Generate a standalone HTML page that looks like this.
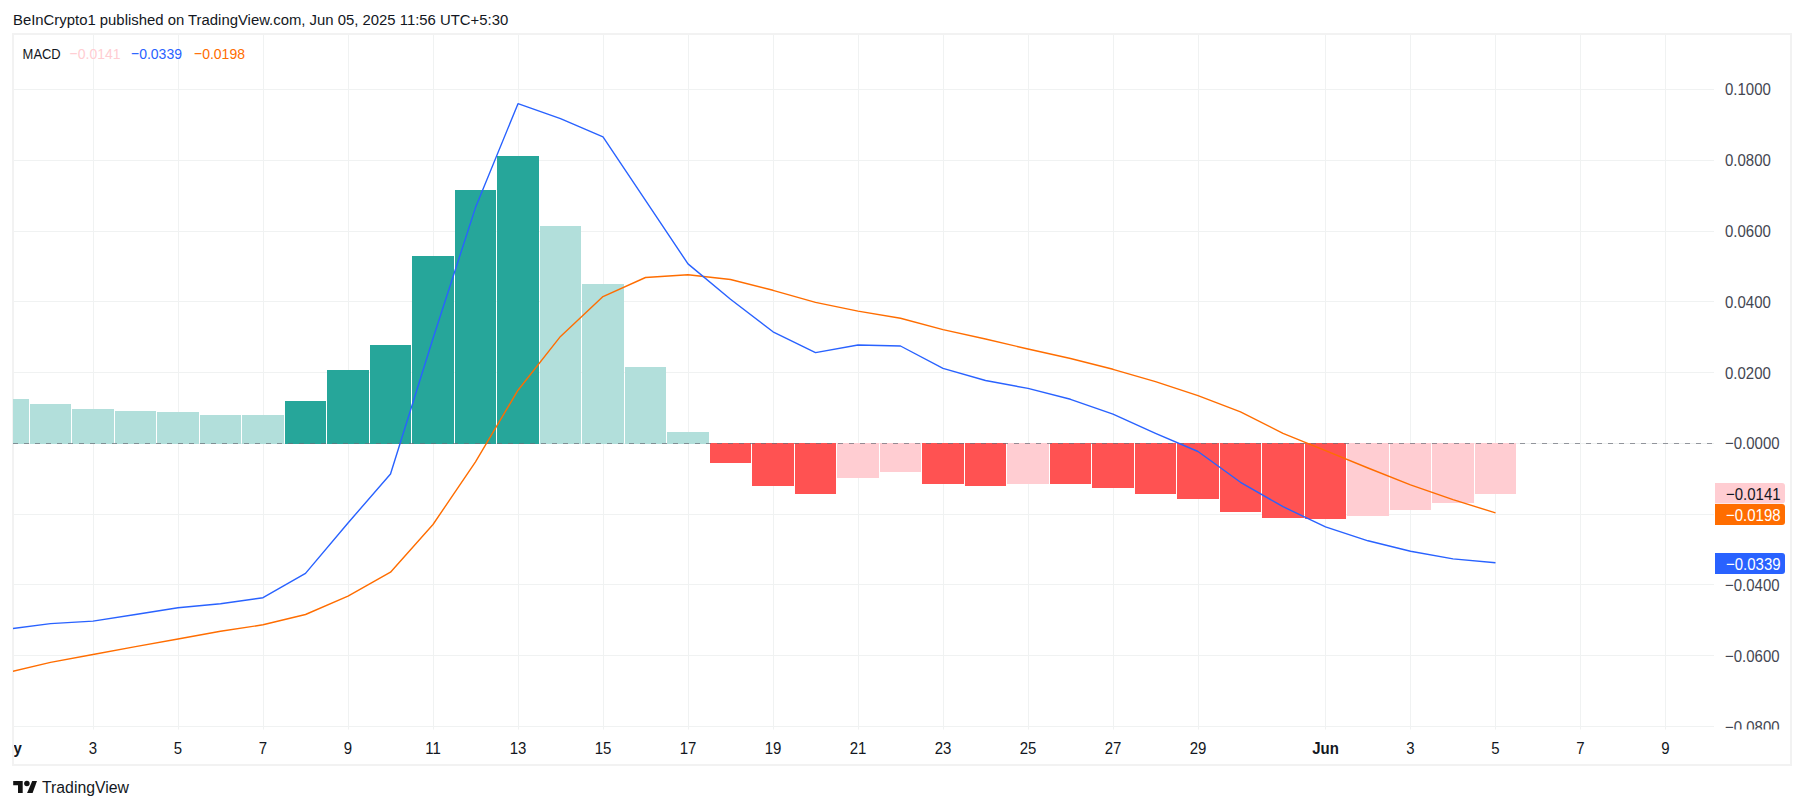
<!DOCTYPE html>
<html><head><meta charset="utf-8"><style>
html,body{margin:0;padding:0;background:#fff;}
body{width:1804px;height:809px;position:relative;overflow:hidden;font-family:"Liberation Sans", sans-serif;}
svg{position:absolute;left:0;top:0;}
</style></head><body>
<svg width="1804" height="809" viewBox="0 0 1804 809" font-family='"Liberation Sans", sans-serif'>
<rect x="0" y="0" width="1804" height="809" fill="#ffffff"/>
<text x="13" y="25" font-size="14.88" fill="#131722">BeInCrypto1 published on TradingView.com, Jun 05, 2025 11:56 UTC+5:30</text>
<rect x="13" y="34" width="1778" height="731" fill="none" stroke="#f2f2f2" stroke-width="2"/>
<clipPath id="pane"><rect x="13" y="35" width="1701" height="694.5"/></clipPath>
<g clip-path="url(#pane)"><g stroke="#f0f2f2" stroke-width="1" shape-rendering="crispEdges"><line x1="93.5" y1="35" x2="93.5" y2="729.5"/><line x1="178.5" y1="35" x2="178.5" y2="729.5"/><line x1="263.5" y1="35" x2="263.5" y2="729.5"/><line x1="348.5" y1="35" x2="348.5" y2="729.5"/><line x1="433.5" y1="35" x2="433.5" y2="729.5"/><line x1="518.5" y1="35" x2="518.5" y2="729.5"/><line x1="603.5" y1="35" x2="603.5" y2="729.5"/><line x1="688.5" y1="35" x2="688.5" y2="729.5"/><line x1="773.5" y1="35" x2="773.5" y2="729.5"/><line x1="858.5" y1="35" x2="858.5" y2="729.5"/><line x1="943.5" y1="35" x2="943.5" y2="729.5"/><line x1="1028.5" y1="35" x2="1028.5" y2="729.5"/><line x1="1113.5" y1="35" x2="1113.5" y2="729.5"/><line x1="1198.5" y1="35" x2="1198.5" y2="729.5"/><line x1="1325.5" y1="35" x2="1325.5" y2="729.5"/><line x1="1410.5" y1="35" x2="1410.5" y2="729.5"/><line x1="1495.5" y1="35" x2="1495.5" y2="729.5"/><line x1="1580.5" y1="35" x2="1580.5" y2="729.5"/><line x1="1665.5" y1="35" x2="1665.5" y2="729.5"/><line x1="14" y1="726.5" x2="1714" y2="726.5"/><line x1="14" y1="655.5" x2="1714" y2="655.5"/><line x1="14" y1="584.5" x2="1714" y2="584.5"/><line x1="14" y1="514.5" x2="1714" y2="514.5"/><line x1="14" y1="443.5" x2="1714" y2="443.5"/><line x1="14" y1="372.5" x2="1714" y2="372.5"/><line x1="14" y1="301.5" x2="1714" y2="301.5"/><line x1="14" y1="231.5" x2="1714" y2="231.5"/><line x1="14" y1="160.5" x2="1714" y2="160.5"/><line x1="14" y1="89.5" x2="1714" y2="89.5"/></g><g><rect x="13" y="399.0" width="16" height="45.0" fill="#b2dfdb"/><rect x="30" y="404.0" width="41" height="40.0" fill="#b2dfdb"/><rect x="72" y="409.0" width="42" height="35.0" fill="#b2dfdb"/><rect x="115" y="411.0" width="41" height="33.0" fill="#b2dfdb"/><rect x="157" y="412.0" width="42" height="32.0" fill="#b2dfdb"/><rect x="200" y="415.0" width="41" height="29.0" fill="#b2dfdb"/><rect x="242" y="415.0" width="42" height="29.0" fill="#b2dfdb"/><rect x="285" y="401.0" width="41" height="43.0" fill="#26a69a"/><rect x="327" y="370.0" width="42" height="74.0" fill="#26a69a"/><rect x="370" y="345.0" width="41" height="99.0" fill="#26a69a"/><rect x="412" y="256.0" width="42" height="188.0" fill="#26a69a"/><rect x="455" y="190.0" width="41" height="254.0" fill="#26a69a"/><rect x="497" y="156.0" width="42" height="288.0" fill="#26a69a"/><rect x="540" y="226.0" width="41" height="218.0" fill="#b2dfdb"/><rect x="582" y="284.0" width="42" height="160.0" fill="#b2dfdb"/><rect x="625" y="367.0" width="41" height="77.0" fill="#b2dfdb"/><rect x="667" y="432.0" width="42" height="12.0" fill="#b2dfdb"/><rect x="710" y="443.0" width="41" height="20.0" fill="#ff5252"/><rect x="752" y="443.0" width="42" height="43.0" fill="#ff5252"/><rect x="795" y="443.0" width="41" height="51.0" fill="#ff5252"/><rect x="837" y="443.0" width="42" height="35.0" fill="#ffcdd2"/><rect x="880" y="443.0" width="41" height="29.0" fill="#ffcdd2"/><rect x="922" y="443.0" width="42" height="41.0" fill="#ff5252"/><rect x="965" y="443.0" width="41" height="43.0" fill="#ff5252"/><rect x="1007" y="443.0" width="42" height="41.0" fill="#ffcdd2"/><rect x="1050" y="443.0" width="41" height="41.0" fill="#ff5252"/><rect x="1092" y="443.0" width="42" height="45.0" fill="#ff5252"/><rect x="1135" y="443.0" width="41" height="51.0" fill="#ff5252"/><rect x="1177" y="443.0" width="42" height="56.0" fill="#ff5252"/><rect x="1220" y="443.0" width="41" height="69.0" fill="#ff5252"/><rect x="1262" y="443.0" width="42" height="75.0" fill="#ff5252"/><rect x="1305" y="443.0" width="41" height="76.0" fill="#ff5252"/><rect x="1347" y="443.0" width="42" height="73.0" fill="#ffcdd2"/><rect x="1390" y="443.0" width="41" height="67.0" fill="#ffcdd2"/><rect x="1432" y="443.0" width="42" height="60.0" fill="#ffcdd2"/><rect x="1475" y="443.0" width="41" height="51.0" fill="#ffcdd2"/></g><line x1="13" y1="443.5" x2="1714" y2="443.5" stroke="#6a6d78" stroke-opacity="0.7" stroke-width="1" stroke-dasharray="5 6" shape-rendering="crispEdges"/><polyline points="8.0,672.4 50.5,662.4 93.0,654.5 135.5,646.6 178.0,639.0 220.5,631.3 263.0,624.8 305.5,614.5 348.0,596.2 390.5,572.2 433.0,524.5 475.5,461.8 518.0,390.2 560.5,336.4 603.0,296.6 645.5,277.5 688.0,274.7 730.5,279.5 773.0,290.3 815.5,302.4 858.0,311.1 900.5,318.3 943.0,329.6 985.5,339.0 1028.0,349.0 1070.5,358.5 1113.0,369.3 1155.5,381.6 1198.0,395.7 1240.5,411.8 1283.0,433.4 1325.5,450.7 1368.0,468.0 1410.5,484.8 1453.0,499.6 1495.5,512.9" fill="none" stroke="#ff6d00" stroke-width="1.4" stroke-linejoin="round"/><polyline points="8.0,629.1 50.5,623.6 93.0,621.1 135.5,614.5 178.0,607.8 220.5,603.8 263.0,597.7 305.5,573.4 348.0,523.0 390.5,474.0 433.0,338.5 475.5,207.6 518.0,103.7 560.5,118.6 603.0,136.8 645.5,200.3 688.0,263.9 730.5,299.3 773.0,331.8 815.5,352.6 858.0,345.0 900.5,346.0 943.0,368.4 985.5,380.5 1028.0,388.4 1070.5,399.3 1113.0,414.2 1155.5,433.3 1198.0,451.5 1240.5,482.3 1283.0,506.7 1325.5,526.8 1368.0,540.8 1410.5,551.2 1453.0,558.9 1495.5,562.8" fill="none" stroke="#2962ff" stroke-width="1.4" stroke-linejoin="round"/></g>
<clipPath id="paxis"><rect x="1714" y="35" width="76" height="694.5"/></clipPath><g font-size="15" fill="#434651" clip-path="url(#paxis)"><text transform="translate(1725,95.4) scale(1,1.12)">0.1000</text><text transform="translate(1725,166.4) scale(1,1.12)">0.0800</text><text transform="translate(1725,237.4) scale(1,1.12)">0.0600</text><text transform="translate(1725,307.5) scale(1,1.12)">0.0400</text><text transform="translate(1725,378.5) scale(1,1.12)">0.0200</text><text transform="translate(1725,448.6) scale(1,1.12)">−0.0000</text><text transform="translate(1725,590.5) scale(1,1.12)">−0.0400</text><text transform="translate(1725,661.5) scale(1,1.12)">−0.0600</text><text transform="translate(1725,732.5) scale(1,1.12)">−0.0800</text></g>
<g font-size="15">
<path d="M1715,483 h67 a3,3 0 0 1 3,3 v14.5 a3,3 0 0 1 -3,3 h-67 z" fill="#ffcdd2"/>
<text transform="translate(1726,500.1) scale(1,1.12)" fill="#131722">−0.0141</text>
<path d="M1715,504 h67 a3,3 0 0 1 3,3 v15 a3,3 0 0 1 -3,3 h-67 z" fill="#ff6d00"/>
<text transform="translate(1726,521.1) scale(1,1.12)" fill="#ffffff">−0.0198</text>
<path d="M1715,553 h67 a3,3 0 0 1 3,3 v15 a3,3 0 0 1 -3,3 h-67 z" fill="#2962ff"/>
<text transform="translate(1726,570.1) scale(1,1.12)" fill="#ffffff">−0.0339</text>
</g>
<clipPath id="taxis"><rect x="14" y="729" width="1700" height="35"/></clipPath>
<g font-size="15" fill="#131722" clip-path="url(#taxis)"><text transform="translate(7.2,753.8) scale(1,1.1)" text-anchor="middle" font-weight="bold">May</text><text transform="translate(93.0,753.8) scale(1,1.1)" text-anchor="middle">3</text><text transform="translate(178.0,753.8) scale(1,1.1)" text-anchor="middle">5</text><text transform="translate(263.0,753.8) scale(1,1.1)" text-anchor="middle">7</text><text transform="translate(348.0,753.8) scale(1,1.1)" text-anchor="middle">9</text><text transform="translate(433.0,753.8) scale(1,1.1)" text-anchor="middle">11</text><text transform="translate(518.0,753.8) scale(1,1.1)" text-anchor="middle">13</text><text transform="translate(603.0,753.8) scale(1,1.1)" text-anchor="middle">15</text><text transform="translate(688.0,753.8) scale(1,1.1)" text-anchor="middle">17</text><text transform="translate(773.0,753.8) scale(1,1.1)" text-anchor="middle">19</text><text transform="translate(858.0,753.8) scale(1,1.1)" text-anchor="middle">21</text><text transform="translate(943.0,753.8) scale(1,1.1)" text-anchor="middle">23</text><text transform="translate(1028.0,753.8) scale(1,1.1)" text-anchor="middle">25</text><text transform="translate(1113.0,753.8) scale(1,1.1)" text-anchor="middle">27</text><text transform="translate(1198.0,753.8) scale(1,1.1)" text-anchor="middle">29</text><text transform="translate(1325.5,753.8) scale(1,1.1)" text-anchor="middle" font-weight="bold">Jun</text><text transform="translate(1410.5,753.8) scale(1,1.1)" text-anchor="middle">3</text><text transform="translate(1495.5,753.8) scale(1,1.1)" text-anchor="middle">5</text><text transform="translate(1580.5,753.8) scale(1,1.1)" text-anchor="middle">7</text><text transform="translate(1665.5,753.8) scale(1,1.1)" text-anchor="middle">9</text></g>
<g font-size="14">
<text transform="translate(22.6,59.2) scale(0.925,1.1)" fill="#131722">MACD</text>
<text transform="translate(69.6,59.2) scale(1,1.1)" fill="#ffcdd2">−0.0141</text>
<text transform="translate(131,59.2) scale(1,1.1)" fill="#2962ff">−0.0339</text>
<text transform="translate(194,59.2) scale(1,1.1)" fill="#ff6d00">−0.0198</text>
</g>
<g fill="#131313">
<path d="M13.2,781 h9.5 v12 h-4.7 v-7.8 h-4.8 z"/>
<circle cx="26.9" cy="783.4" r="2.75"/>
<path d="M32.2,781 h4.8 l-4.4,12 h-5.5 z"/>
</g>
<text x="42" y="793" font-size="15.8" fill="#131722">TradingView</text>
</svg>
</body></html>
